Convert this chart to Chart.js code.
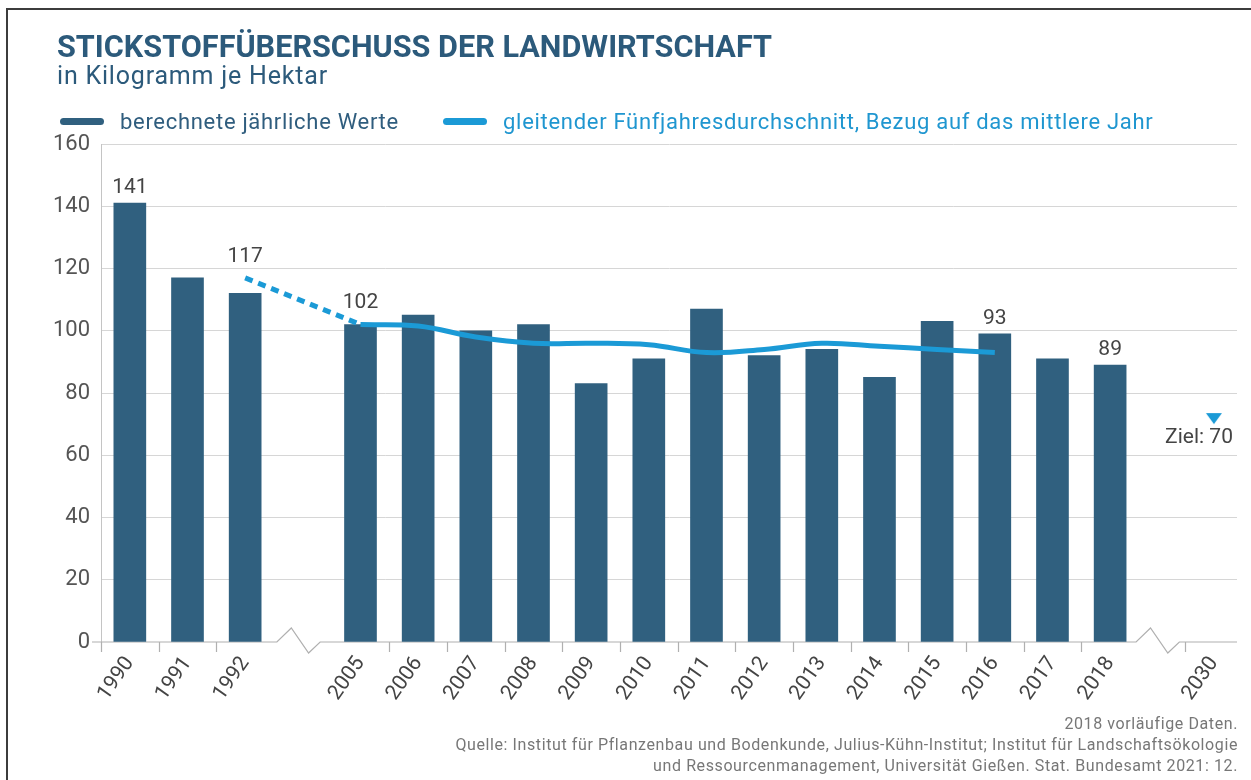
<!DOCTYPE html>
<html lang="de">
<head>
<meta charset="utf-8">
<title>Stickstoffüberschuss der Landwirtschaft</title>
<script src="https://cdn.jsdelivr.net/npm/chart.js@4.4.1/dist/chart.umd.min.js"></script>
<style>
  body { margin: 0; background: #fff; font-family: Roboto, "Noto Sans", sans-serif; }
  #wrap { position: relative; width: 1251px; height: 780px; overflow: hidden; }
  #frame { position: absolute; left: 6px; top: 8px; width: 1260px; height: 800px; border: 2px solid #3c3c3c; }
  #chart { position: absolute; left: 0; top: 0; }
  .title { position: absolute; left: 57px; top: 27px; font-size: 32px; font-weight: 700; color: #2c5a7b;
           white-space: nowrap; transform: scaleX(0.957); transform-origin: left top; }
  .subtitle { position: absolute; left: 57px; top: 61px; font-size: 25px; letter-spacing: 0.8px; color: #2c5a7b; white-space: nowrap; }
  .legend { position: absolute; top: 107px; left: 60px; font-size: 22px; letter-spacing: 0.7px; white-space: nowrap; }
  .legend span { display: inline-block; vertical-align: middle; }
  .mark { width: 44px; height: 7px; border-radius: 4px; margin-right: 16px; }
  .footer { position: absolute; right: 13px; top: 713px; font-size: 16px; letter-spacing: 0.6px; line-height: 21px; color: #777; text-align: right; white-space: nowrap; }
</style>
</head>
<body>
<div id="wrap">
  <div id="frame"></div>
  <canvas id="chart" width="1251" height="780"></canvas>
  <div class="title">STICKSTOFFÜBERSCHUSS DER LANDWIRTSCHAFT</div>
  <div class="subtitle">in Kilogramm je Hektar</div>
  <div class="legend">
    <span class="mark" style="background:#30607f"></span><span style="color:#2f5d7e">berechnete jährliche Werte</span>
    <span class="mark" style="background:#1b9ad6;margin-left:38px"></span><span style="color:#1f96d0">gleitender Fünfjahresdurchschnitt, Bezug auf das mittlere Jahr</span>
  </div>
  <div class="footer">2018 vorläufige Daten.<br>Quelle: Institut für Pflanzenbau und Bodenkunde, Julius-Kühn-Institut; Institut für Landschaftsökologie<br>und Ressourcenmanagement, Universität Gießen. Stat. Bundesamt 2021: 12.</div>
</div>

<script>
// Daten
var years = ['1990', '1991', '1992', '2005', '2006', '2007', '2008', '2009', '2010', '2011', '2012', '2013', '2014', '2015', '2016', '2017', '2018'];
var annualValues = [141, 117, 112, 102, 105, 100, 102, 83, 91, 107, 92, 94, 85, 103, 99, 91, 89];
var avgYears = ['1992', '2005', '2006', '2007', '2008', '2009', '2010', '2011', '2012', '2013', '2014', '2015', '2016'];
var avgValues = [117, 102, 101.5, 98, 96, 96, 95.5, 93, 94, 96, 95, 94, 93];
var targetYear = '2030';
var targetValue = 70;
var labelledYears = ['1990', '1992', '2005', '2016', '2018'];
var yTicks = [0, 20, 40, 60, 80, 100, 120, 140, 160];

var barColor = '#30607f';
var lineColor = '#1b9ad6';

// Position der Jahre auf der Achse (Sprünge bekommen eine Lücke)
var slotOf = {};
var s = 0;
for (var i = 0; i < years.length; i++) {
  if (i > 0) s += (parseInt(years[i]) - parseInt(years[i - 1]) > 1) ? 2 : 1;
  slotOf[years[i]] = s;
}
var lastSlot = s;
slotOf[targetYear] = lastSlot + 1.8;
var allYears = years.concat([targetYear]);

var barData = years.map(function (y, i) { return { x: slotOf[y], y: annualValues[i] }; });
var avgData = avgYears.map(function (y, i) { return { x: slotOf[y], y: avgValues[i] }; });

// gestrichelt über die Lücke, danach durchgezogen
var g = 1;
while (g < avgData.length && avgData[g].x - avgData[g - 1].x <= 1) g++;
var avgDashed = avgData.slice(0, g + 1);
var avgSolid = avgData.slice(g);

// Dreieck, Spitze in der Bildmitte
var tri = document.createElement('canvas');
tri.width = 18; tri.height = 24;
var tc = tri.getContext('2d');
tc.fillStyle = lineColor;
tc.beginPath(); tc.moveTo(1, 1); tc.lineTo(17, 1); tc.lineTo(9, 12); tc.closePath(); tc.fill();

// x-Achse mit Bruchstellen und Teilstrichen
var axisPlugin = {
  id: 'brokenAxis',
  beforeDatasetsDraw: function (chart) {
    var ctx = chart.ctx, xs = chart.scales.x, y0 = chart.scales.y.getPixelForValue(0);
    var slots = allYears.map(function (y) { return slotOf[y]; });
    var breaks = [];
    for (var k = 1; k < slots.length; k++) {
      if (slots[k] - slots[k - 1] > 1) breaks.push((slots[k] + slots[k - 1]) / 2);
    }
    ctx.save();
    ctx.strokeStyle = '#b0b0b0';
    ctx.lineWidth = 1.2;
    ctx.beginPath();
    ctx.moveTo(xs.left - 9, y0);
    breaks.forEach(function (b) {
      ctx.lineTo(xs.getPixelForValue(b - 0.45), y0);
      ctx.lineTo(xs.getPixelForValue(b - 0.2), y0 - 14);
      ctx.lineTo(xs.getPixelForValue(b + 0.1), y0 + 11);
      ctx.lineTo(xs.getPixelForValue(b + 0.3), y0);
    });
    ctx.lineTo(xs.right, y0);
    ctx.stroke();
    ctx.beginPath();
    for (var k = 0; k < slots.length; k++) {
      if (k === 0 || slots[k] - slots[k - 1] === 1 || k === slots.length - 1) {
        var px = Math.round(xs.getPixelForValue(slots[k] - 0.5)) + 0.5;
        ctx.moveTo(px, y0);
        ctx.lineTo(px, y0 + 10);
      }
    }
    ctx.stroke();
    ctx.restore();
  }
};

// Werte über Balken / Linie und Ziel
var labelPlugin = {
  id: 'valueLabels',
  afterDatasetsDraw: function (chart) {
    var ctx = chart.ctx, xs = chart.scales.x, ys = chart.scales.y;
    ctx.save();
    ctx.font = '21px Roboto';
    ctx.fillStyle = '#444';
    ctx.textAlign = 'center';
    ctx.textBaseline = 'bottom';
    labelledYears.forEach(function (yr) {
      var ai = avgYears.indexOf(yr), bi = years.indexOf(yr);
      var v = ai >= 0 ? avgValues[ai] : annualValues[bi];
      var top = Infinity;
      if (bi >= 0) top = Math.min(top, ys.getPixelForValue(annualValues[bi]) - 5);
      if (ai >= 0) top = Math.min(top, ys.getPixelForValue(avgValues[ai]) - 11);
      ctx.fillText(String(Math.round(v)), xs.getPixelForValue(slotOf[yr]), top);
    });
    var p = chart.getDatasetMeta(3).data[0];
    ctx.textAlign = 'right';
    ctx.textBaseline = 'middle';
    ctx.fillText('Ziel: ' + targetValue, p.x + 19, p.y + 14);
    ctx.restore();
  }
};

var ctx = document.getElementById('chart').getContext('2d');
var chart = new Chart(ctx, {
  data: {
    datasets: [
      {
        type: 'line',
        label: 'gleitender Fünfjahresdurchschnitt, Bezug auf das mittlere Jahr',
        data: avgSolid,
        borderColor: lineColor,
        borderWidth: 5,
        pointRadius: 0,
        tension: 0.4,
        order: 0
      },
      {
        type: 'line',
        label: 'gleitender Fünfjahresdurchschnitt (Lücke)',
        data: avgDashed,
        borderColor: lineColor,
        borderWidth: 5,
        borderDash: [8, 6],
        pointRadius: 0,
        tension: 0,
        order: 0
      },
      {
        type: 'bar',
        label: 'berechnete jährliche Werte',
        data: barData,
        backgroundColor: barColor,
        barThickness: 32,
        order: 1
      },
      {
        type: 'scatter',
        label: 'Ziel',
        data: [{ x: slotOf[targetYear], y: targetValue }],
        pointStyle: tri,
        pointRadius: 9,
        order: 0
      }
    ]
  },
  options: {
    responsive: false,
    animation: false,
    devicePixelRatio: 1,
    layout: { padding: { top: 144, right: 14, bottom: 0, left: 0 } },
    plugins: {
      legend: { display: false },
      tooltip: { enabled: false }
    },
    scales: {
      x: {
        type: 'linear',
        offset: false,
        min: -0.5,
        max: lastSlot + 2.2,
        afterFit: function (scale) { scale.height = 138; },
        afterBuildTicks: function (scale) {
          scale.ticks = allYears.map(function (y) { return { value: slotOf[y] }; });
        },
        grid: { display: false, drawTicks: false },
        border: { display: false },
        ticks: {
          autoSkip: false,
          minRotation: 55,
          maxRotation: 55,
          padding: 10,
          color: '#444',
          font: { family: 'Roboto', size: 21 },
          callback: function (value) {
            for (var k = 0; k < allYears.length; k++) if (slotOf[allYears[k]] === value) return allYears[k];
            return '';
          }
        }
      },
      y: {
        min: 0,
        max: 160,
        afterFit: function (scale) { scale.width = 101; },
        afterBuildTicks: function (scale) {
          scale.ticks = yTicks.map(function (v) { return { value: v }; });
        },
        grid: {
          drawTicks: false,
          color: function (c) { return c.tick && c.tick.value === 0 ? 'rgba(0,0,0,0)' : '#d6d6d6'; }
        },
        border: { display: true, color: '#c4c4c4' },
        ticks: {
          padding: 11,
          color: '#555',
          font: { family: 'Roboto', size: 22 }
        }
      }
    }
  },
  plugins: [axisPlugin, labelPlugin]
});
</script>
</body>
</html>
